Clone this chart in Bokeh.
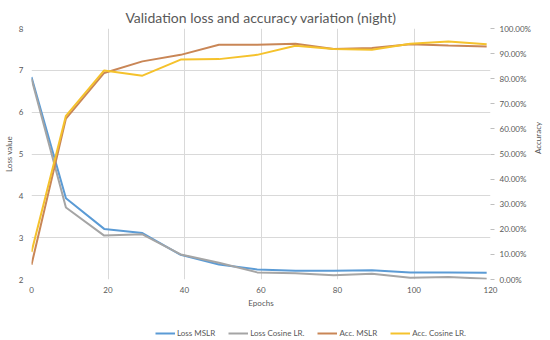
import math
from bokeh.plotting import figure
from bokeh.layouts import column
from bokeh.models import (Range1d, LinearAxis, Legend, LegendItem, SingleIntervalTicker,
                          PrintfTickFormatter)
from bokeh.embed import file_html
from bokeh.resources import INLINE

epochs = [0, 9, 19, 29, 39, 49, 59, 69, 79, 89, 99, 109, 119]
loss_mslr = [6.84, 3.94, 3.21, 3.11, 2.59, 2.36, 2.24, 2.21, 2.21, 2.22, 2.17, 2.17, 2.16]
loss_cos = [6.80, 3.72, 3.05, 3.08, 2.60, 2.40, 2.17, 2.15, 2.10, 2.14, 2.04, 2.06, 2.02]
acc_mslr = [5.9, 64.1, 82.3, 86.9, 89.5, 93.5, 93.5, 93.9, 91.8, 92.2, 93.7, 93.2, 92.8]
acc_cos = [11.0, 65.2, 83.3, 81.2, 87.6, 87.8, 89.5, 93.1, 91.8, 91.5, 93.9, 94.8, 93.7]
labels = ["Loss MSLR", "Loss Cosine LR.", "Acc. MSLR", "Acc. Cosine LR."]
colors = ["#5b9bd5", "#a5a5a5", "#c98656", "#f5c22c"]

FONT = "Lato"
TXT = "#595959"
FS = "8px"

p = figure(width=550, height=310, output_backend="svg", toolbar_location=None,
           x_range=Range1d(0, 120), y_range=Range1d(2, 8),
           title="Validation loss and accuracy variation (night)",
           min_border_left=27, min_border_right=56, min_border_top=28, min_border_bottom=29)
p.outline_line_color = None
p.title.align = "center"
p.title.text_font = FONT
p.title.text_font_size = "14px"
p.title.text_font_style = "normal"
p.title.text_color = TXT
p.title.offset = 0
p.title.standoff = 6

p.extra_y_ranges = {"acc": Range1d(0, 100)}

for ax in [p.xaxis[0], p.yaxis[0]]:
    ax.axis_line_color = None
    ax.major_tick_line_color = None
    ax.major_tick_out = 0
    ax.major_tick_in = 0
    ax.minor_tick_line_color = None
    ax.minor_tick_out = 0
    ax.major_label_text_font = FONT
    ax.major_label_text_font_size = FS
    ax.major_label_text_color = TXT
    ax.axis_label_text_font = FONT
    ax.axis_label_text_font_size = FS
    ax.axis_label_text_font_style = "normal"
    ax.axis_label_text_color = TXT

p.xaxis.major_label_standoff = 7
p.xaxis.axis_label_standoff = 2
p.yaxis.major_label_standoff = 8
p.yaxis.axis_label_standoff = 2

p.xaxis.ticker = SingleIntervalTicker(interval=20)
p.yaxis.ticker = SingleIntervalTicker(interval=1)
p.xaxis.axis_label = "Epochs"
p.yaxis.axis_label = "Loss value"

racc = LinearAxis(y_range_name="acc", ticker=SingleIntervalTicker(interval=10),
                  formatter=PrintfTickFormatter(format="%.2f%%"),
                  axis_label="Accuracy")
racc.axis_line_color = None
racc.major_tick_line_color = "#bfbfbf"
racc.major_tick_out = 4
racc.major_tick_in = 0
racc.minor_tick_line_color = None
racc.minor_tick_out = 0
racc.major_label_text_font = FONT
racc.major_label_text_font_size = FS
racc.major_label_text_color = TXT
racc.axis_label_text_font = FONT
racc.axis_label_text_font_size = FS
racc.axis_label_text_font_style = "normal"
racc.axis_label_text_color = TXT
racc.axis_label_orientation = math.pi / 2
racc.major_label_standoff = 5
racc.axis_label_standoff = 4
p.add_layout(racc, "right")

p.xgrid.grid_line_color = "#d9d9d9"
p.ygrid.grid_line_color = "#d9d9d9"

p.line(epochs, loss_mslr, line_color=colors[0], line_width=2)
p.line(epochs, loss_cos, line_color=colors[1], line_width=2)
p.line(epochs, acc_mslr, line_color=colors[2], line_width=2, y_range_name="acc")
p.line(epochs, acc_cos, line_color=colors[3], line_width=2, y_range_name="acc")

# legend strip below the chart
lg = figure(width=550, height=30, output_backend="svg", toolbar_location=None,
            x_range=Range1d(200, 300), y_range=Range1d(0, 1),
            x_axis_location=None, y_axis_location=None,
            min_border_left=0, min_border_right=0, min_border_top=0, min_border_bottom=0)
lg.outline_line_color = None
lg.grid.visible = False
series = [loss_mslr, loss_cos, acc_mslr, acc_cos]
items = []
for lab, col, ser in zip(labels, colors, series):
    r = lg.line(epochs, ser, line_color=col, line_width=2)
    items.append(LegendItem(label=lab, renderers=[r]))
legend = Legend(items=items, orientation="horizontal", location=(124, 2),
                label_text_font=FONT, label_text_font_size=FS, label_text_color=TXT,
                glyph_width=20, glyph_height=8, label_height=10, spacing=13, label_standoff=2,
                padding=1, margin=0, border_line_color=None, background_fill_alpha=0)
lg.add_layout(legend, "center")

layout = column(p, lg, spacing=0)
open("out.html", "w").write(file_html(layout, INLINE))
